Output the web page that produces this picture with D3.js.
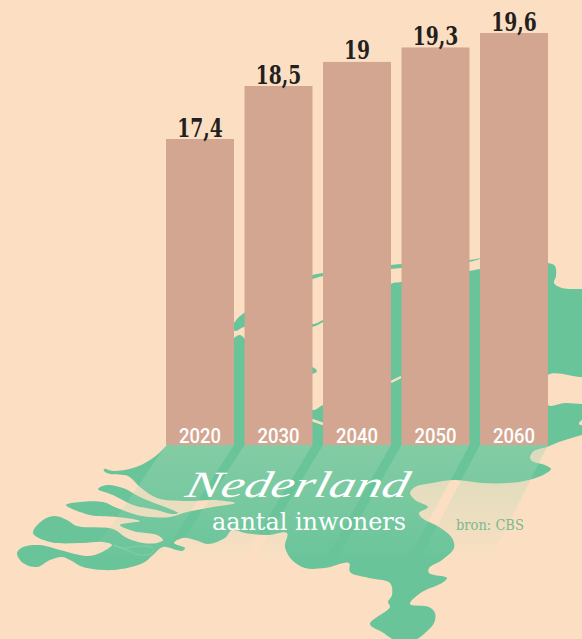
<!DOCTYPE html>
<html lang="nl">
<head>
  <meta charset="UTF-8" />
  <title>Nederland aantal inwoners</title>
  <script src="https://cdn.jsdelivr.net/npm/d3@7/dist/d3.min.js"></script>
  <style>
    html, body { margin: 0; padding: 0; background: #fcdfc3; overflow: hidden; }
    svg { display: block; }
    .value { font: bold 26px "DejaVu Serif Condensed", serif; fill: #231f20; text-anchor: middle; }
    .year { font: 500 20px Roboto, sans-serif; fill: #fff; text-anchor: middle; }
    .title { font: italic 37px "Liberation Serif", serif; fill: #fff; }
    .subtitle { font: 24px "DejaVu Serif Condensed", serif; fill: #fff; }
    .source { font: 14.5px "DejaVu Serif Condensed", serif; fill: #7db98e; }
  </style>
</head>
<body>
<script>
  const years = ["2020", "2030", "2040", "2050", "2060"];
  const inhabitants = [17.4, 18.5, 19, 19.3, 19.6];
  const valueLabels = ["17,4", "18,5", "19", "19,3", "19,6"];

  // background map outline
  const mapMain = [[548,263],[555,266],[556,276],[554,283],[562,288],[582,289],[592,289],[592,376],[582,377],[548,375],
    [548,405],[565,403],[582,404],[592,404],[592,418],[582,420],[579,424],[592,428],[592,431],[575,437],[559,442],[547,447],
    [534,451],[530,457],[532,461],[545,465],[551,469],[545,474],[529,480],[509,483],[482,483],[455,480],[432,483],[415,487],
    [410,493],[415,500],[428,507],[419,513],[422,518],[439,527],[452,538],[454,548],[442,560],[429,568],[429,573],[447,578],
    [442,583],[422,592],[410,604],[429,607],[435,613],[434,623],[425,633],[415,640],[399,642],[382,632],[370,624],[390,607],
    [388,602],[392,595],[390,583],[369,578],[350,572],[349,563],[325,568],[305,568],[292,560],[285,547],[287,533],[267,535],
    [245,533],[232,530],[225,538],[208,544],[195,540],[183,538],[174,543],[185,548],[182,551],[163,547],[153,555],[143,563],
    [113,570],[83,567],[70,560],[62,557],[50,560],[37,567],[23,563],[17,553],[23,547],[40,545],[60,550],[87,556],[100,553],
    [112,545],[103,542],[83,543],[50,542],[33,533],[43,520],[55,516],[67,520],[77,526],[113,529],[127,538],[143,543],[157,543],
    [163,540],[157,535],[133,531],[120,525],[140,521],[117,517],[90,515],[66,505],[80,502],[103,502],[117,508],[137,515],
    [150,517],[170,517],[187,512],[213,507],[235,503],[213,500],[187,501],[157,498],[140,487],[128,476],[110,474],[104,471],
    [104,469],[113,471],[133,468],[150,460],[167,445],[190,410],[234,338],[240,335],[244,338],[275,370],[312,410],[323,405],
    [350,395],[380,300],[391,284],[401,282],[469,271],[480,269],[520,264]];
  const mapIslands = [
    [[98,489],[107,485],[123,488],[140,497],[157,504],[170,509],[178,513],[172,514],[157,510],[133,505],[113,495]],
    [[300,279],[312,275],[323,273],[391,265],[401,264],[469,260],[482,258],[469,262],[401,268],[391,269],[323,276],[312,279]],
    [[234,323],[244,313],[280,300],[312,324],[323,320],[330,318],[323,322],[312,327],[244,327],[236,331],[232,328]],
    [[300,370],[312,367],[317,371],[312,374]]
  ];
  const mapWater = [
    [[312,420],[323,424]],
    [[391,382],[401,377]]
  ];
  const mapDike = [[113,545],[127,550],[140,555],[152,553],[153,548],[140,546],[123,548]];

  const width = 582, height = 639;
  const colors = { land: "#69c49a", bar: "#d3a691", ground: "#fcdfc3", glow: "#a7d7b2" };

  const svg = d3.select("body").append("svg").attr("width", width).attr("height", height);
  svg.append("rect").attr("width", width).attr("height", height).attr("fill", colors.ground);

  const x = d3.scaleBand().domain(years).range([166, 548]).paddingInner(0.134);
  // the bars do not start at zero in the original
  const y = d3.scaleLinear().domain([11.05, 19.6]).range([445, 33]);

  const outline = d3.line().curve(d3.curveCatmullRomClosed.alpha(0.5));
  const map = svg.append("g");
  map.append("path").attr("d", outline(mapMain)).attr("fill", colors.land);
  map.selectAll(".island").data(mapIslands).enter().append("path")
    .attr("class", "island").attr("d", outline).attr("fill", colors.land);
  map.selectAll(".water").data(mapWater).enter().append("path")
    .attr("class", "water").attr("d", d3.line()).attr("stroke", colors.ground).attr("stroke-width", 2.5);
  map.append("path").attr("d", outline(mapDike)).attr("fill", "none")
    .attr("stroke", "#a6d8b8").attr("stroke-width", 0.6).attr("stroke-dasharray", "2 1");

  // shadows of the bars falling towards the bottom left
  const defs = svg.append("defs");
  const fade = defs.append("linearGradient").attr("id", "fade")
    .attr("gradientUnits", "userSpaceOnUse").attr("x1", 0).attr("x2", 0).attr("y1", 445).attr("y2", 570);
  fade.append("stop").attr("offset", 0).attr("stop-color", colors.glow).attr("stop-opacity", 0.42);
  fade.append("stop").attr("offset", 0.5).attr("stop-color", colors.glow).attr("stop-opacity", 0.22);
  fade.append("stop").attr("offset", 0.95).attr("stop-color", colors.glow).attr("stop-opacity", 0);

  const lean = d3.scaleLinear().domain([166, 548]).range([0.68, 0.5]);
  const shadowDepth = 125;
  svg.selectAll(".shadow").data(years).enter().append("path")
    .attr("class", "shadow")
    .attr("fill", "url(#fade)")
    .attr("d", d => {
      const x0 = x(d), x1 = x(d) + x.bandwidth(), b = y.range()[0];
      return d3.line()([[x0, b], [x1, b],
        [x1 - lean(x1) * shadowDepth, b + shadowDepth], [x0 - lean(x0) * shadowDepth, b + shadowDepth]]) + "Z";
    });

  svg.selectAll(".bar").data(inhabitants).enter().append("rect")
    .attr("class", "bar")
    .attr("x", (d, i) => x(years[i]))
    .attr("y", d => y(d))
    .attr("width", x.bandwidth())
    .attr("height", d => y.range()[0] - y(d))
    .attr("fill", colors.bar);

  // no condensed slab face here, so squeeze the installed one
  svg.selectAll(".value").data(inhabitants).enter().append("text")
    .attr("class", "value")
    .attr("x", (d, i) => x(years[i]) + x.bandwidth() / 2)
    .attr("y", d => y(d) - 2.5)
    .text((d, i) => valueLabels[i])
    .attr("lengthAdjust", "spacingAndGlyphs")
    .attr("textLength", function () { return this.getComputedTextLength() * 0.8; });

  svg.selectAll(".year").data(years).enter().append("text")
    .attr("class", "year")
    .attr("x", d => x(d) + x.bandwidth() / 2)
    .attr("y", 443)
    .attr("textLength", 42)
    .attr("lengthAdjust", "spacingAndGlyphs")
    .text(d => d);

  svg.append("text").attr("class", "title").attr("transform", "translate(184,497) skewX(-14)")
    .attr("textLength", 222).attr("lengthAdjust", "spacingAndGlyphs").text("Nederland");
  svg.append("text").attr("class", "subtitle").attr("x", 212).attr("y", 530)
    .attr("textLength", 194).attr("lengthAdjust", "spacingAndGlyphs").text("aantal inwoners");
  svg.append("text").attr("class", "source").attr("x", 456).attr("y", 530).text("bron: CBS");
</script>
</body>
</html>
